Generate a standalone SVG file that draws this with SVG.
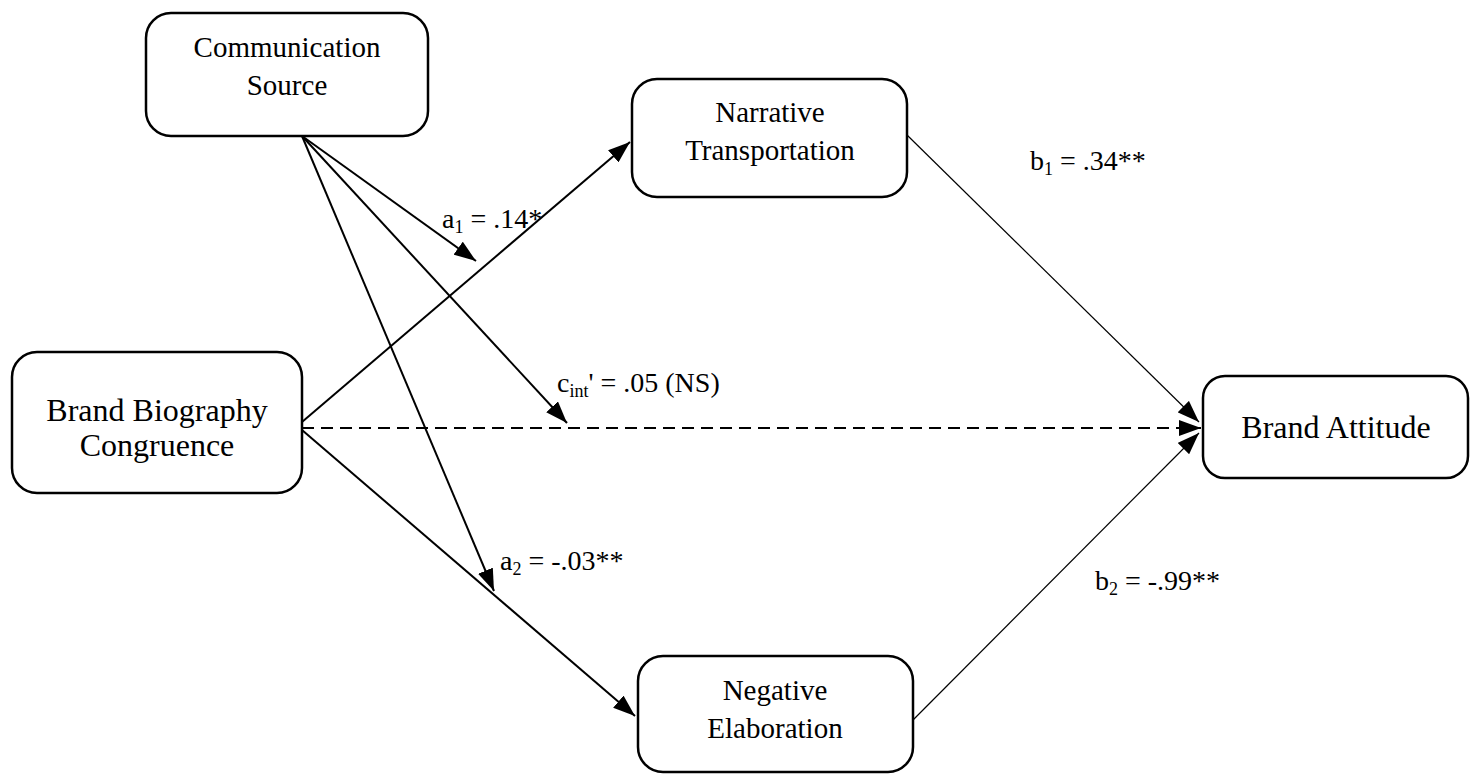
<svg xmlns="http://www.w3.org/2000/svg" width="1471" height="774" viewBox="0 0 1471 774">
<style>
.box{fill:#fff;stroke:#000;stroke-width:2.5}
text{font-family:"Liberation Serif",Tinos,"Times New Roman","Noto Serif","DejaVu Serif",serif;fill:#000}
.nt{font-size:29px;text-anchor:middle}
.big{font-size:32px}
.lbl{font-size:28px}
.sub{font-size:18px}
.ln{stroke:#000;stroke-width:2;fill:none}
.thin{stroke:#000;stroke-width:1.2;fill:none}
.dash{stroke:#000;stroke-width:2.2;fill:none;stroke-dasharray:12 7}
</style>
<defs>
<marker id="ah" markerUnits="userSpaceOnUse" markerWidth="22" markerHeight="16" refX="22" refY="8" orient="auto">
<path d="M0,0 L22,8 L0,16 z" fill="#000"/>
</marker>
</defs>
<rect width="1471" height="774" fill="#fff"/>
<g id="connectors">
<line class="ln" x1="302" y1="422" x2="630" y2="142" marker-end="url(#ah)"/>
<line class="ln" x1="302" y1="430" x2="635" y2="716" marker-end="url(#ah)"/>
<line class="dash" x1="302" y1="428" x2="1201" y2="428" marker-end="url(#ah)"/>
<line class="thin" x1="907" y1="135" x2="1199" y2="422" marker-end="url(#ah)"/>
<line class="thin" x1="913" y1="720" x2="1199" y2="433" marker-end="url(#ah)"/>
<line class="ln" x1="302" y1="136" x2="476" y2="261" marker-end="url(#ah)"/>
<line class="ln" x1="302" y1="136" x2="567" y2="423" marker-end="url(#ah)"/>
<line class="ln" x1="302" y1="136" x2="494" y2="591" marker-end="url(#ah)"/>
</g>
<g id="communication-source">
<rect class="box" x="146" y="13" width="282" height="123" rx="25"/>
<text class="nt" x="287" y="57">Communication</text>
<text class="nt" x="287" y="95">Source</text>
</g>
<g id="brand-biography">
<rect class="box" x="12" y="352" width="290" height="141" rx="25"/>
<text class="nt big" x="157" y="421">Brand Biography</text>
<text class="nt big" x="157" y="456">Congruence</text>
</g>
<g id="narrative-transportation">
<rect class="box" x="632" y="79" width="275" height="118" rx="25"/>
<text class="nt" x="770" y="122">Narrative</text>
<text class="nt" x="770" y="160">Transportation</text>
</g>
<g id="negative-elaboration">
<rect class="box" x="638" y="656" width="275" height="116" rx="25"/>
<text class="nt" x="775" y="700">Negative</text>
<text class="nt" x="775" y="738">Elaboration</text>
</g>
<g id="brand-attitude">
<rect class="box" x="1203" y="376" width="265" height="102" rx="22"/>
<text class="nt big" x="1336" y="438">Brand Attitude</text>
</g>
<g id="labels">
<text class="lbl" x="442" y="228">a<tspan class="sub" dy="5">1</tspan><tspan dy="-5"> = .14*</tspan></text>
<text class="lbl" x="557" y="392">c<tspan class="sub" dy="5">int</tspan><tspan dy="-5">' = .05 (NS)</tspan></text>
<text class="lbl" x="500" y="570">a<tspan class="sub" dy="5">2</tspan><tspan dy="-5"> = -.03**</tspan></text>
<text class="lbl" x="1030" y="170">b<tspan class="sub" dy="5">1</tspan><tspan dy="-5"> = .34**</tspan></text>
<text class="lbl" x="1095" y="590">b<tspan class="sub" dy="5">2</tspan><tspan dy="-5"> = -.99**</tspan></text>
</g>
</svg>
